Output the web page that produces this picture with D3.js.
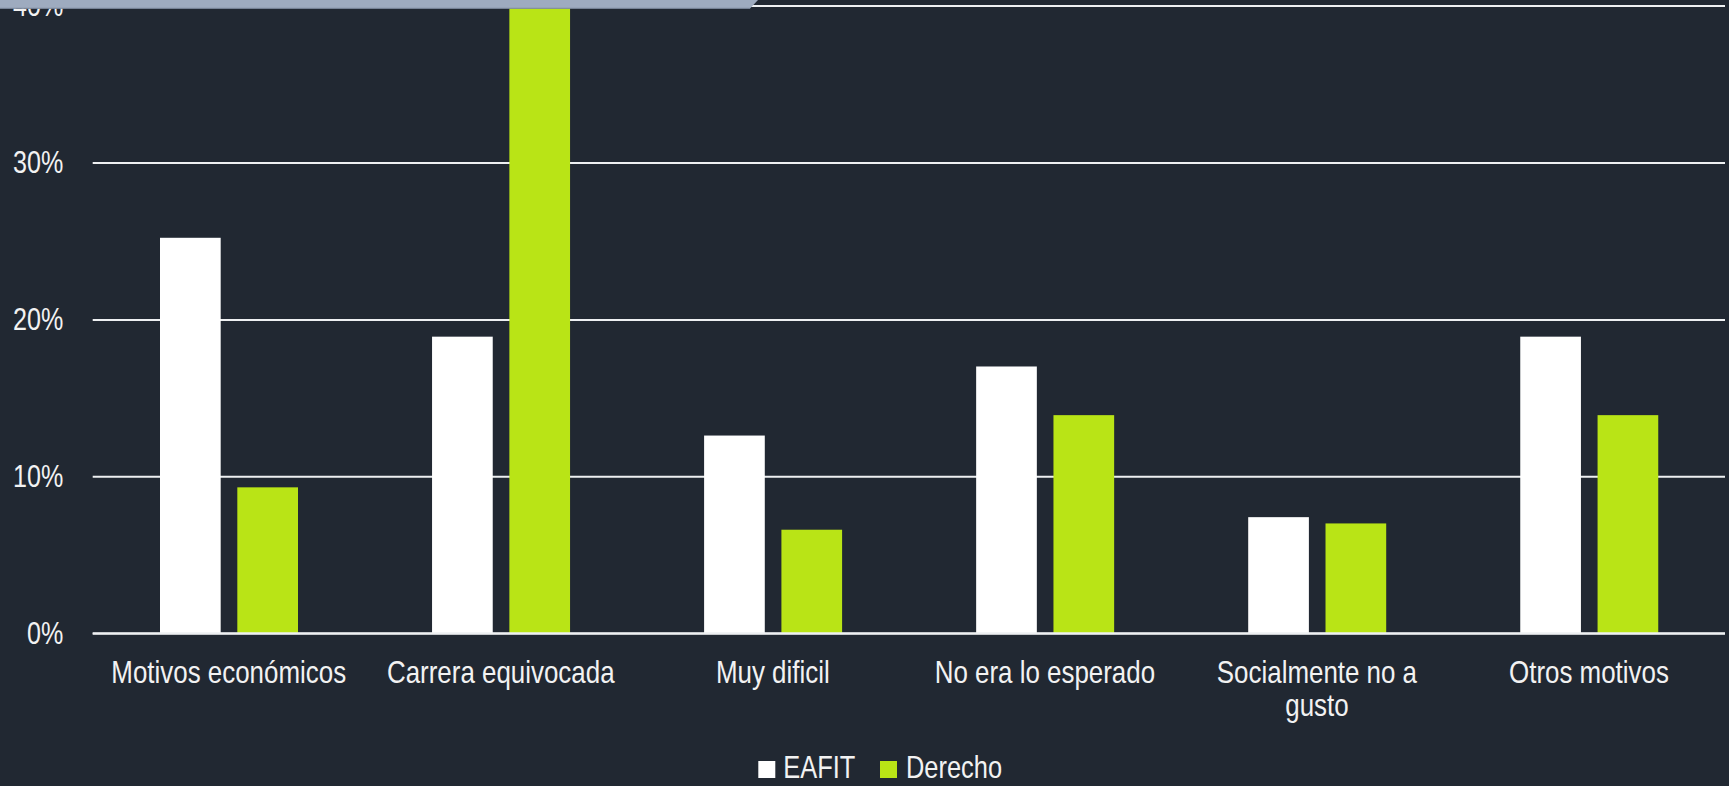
<!DOCTYPE html>
<html lang="es">
<head>
    <meta charset="UTF-8">
    <title>Motivos de deserción</title>
    <script src="https://cdnjs.cloudflare.com/ajax/libs/d3/7.8.5/d3.min.js"></script>
    <style>
        body {
            margin: 0;
            background-color: #212832;
            overflow: hidden;
        }
        svg text {
            font-family: "Liberation Sans", Arial, sans-serif;
            fill: #f2f2f2;
        }
    </style>
</head>
<body>
    <div id="chart"></div>

    <script>
        // Data
        const categories = ["Motivos económicos", "Carrera equivocada", "Muy dificil", "No era lo esperado", "Socialmente no a gusto", "Otros motivos"];
        const seriesNames = ["EAFIT", "Derecho"];
        const eafit = [25.2, 18.9, 12.6, 17.0, 7.4, 18.9];
        const derecho = [9.3, 41, 6.6, 13.9, 7.0, 13.9];
        const yTicks = [0, 10, 20, 30, 40];

        const colors = ["#ffffff", "#b9e416"];
        const width = 1729, height = 786;
        const plotLeft = 92.7, plotRight = 1725, plotTop = 5.5, plotBottom = 633.3;

        const svg = d3.select("#chart")
            .append("svg")
            .attr("width", width)
            .attr("height", height);

        const x = d3.scaleBand()
            .domain(categories)
            .range([plotLeft, plotRight])
            .paddingInner(0)
            .paddingOuter(0);

        const inner = d3.scaleBand()
            .domain(seriesNames)
            .range([67.3, 67.3 + 138])
            .paddingInner(0.215);

        const y = d3.scaleLinear()
            .domain([0, 40])
            .range([plotBottom, plotTop]);

        // helper: Liberation Sans squeezed to look like Arial Narrow
        function narrowText(parent, tx, ty, str, anchor, size, squeeze) {
            return parent.append("text")
                .attr("transform", `translate(${tx},${ty}) scale(${squeeze},1)`)
                .attr("text-anchor", anchor || "start")
                .attr("font-size", size)
                .text(str);
        }

        // Gridlines
        const yAxis = d3.axisLeft(y)
            .tickValues(yTicks)
            .tickSize(-(plotRight - plotLeft))
            .tickFormat("");

        const gAxis = svg.append("g")
            .attr("transform", `translate(${plotLeft},0)`)
            .call(yAxis);
        gAxis.select(".domain").remove();
        gAxis.selectAll(".tick line")
            .attr("stroke", "#eef0f2")
            .attr("stroke-width", 2);

        // Tick labels
        const tickLabels = svg.append("g");
        yTicks.forEach(t => {
            narrowText(tickLabels, 63.3, y(t) + 10.8, t + "%", "end", 32, 0.785);
        });

        // Bars
        const rows = categories.map((c, i) => ({ cat: c, values: [eafit[i], derecho[i]] }));

        const groups = svg.append("g")
            .selectAll("g")
            .data(rows)
            .enter()
            .append("g")
            .attr("transform", d => `translate(${x(d.cat)},0)`);

        groups.selectAll("rect")
            .data(d => d.values.map((v, j) => ({ name: seriesNames[j], value: v, j: j })))
            .enter()
            .append("rect")
            .attr("x", d => inner(d.name))
            .attr("width", inner.bandwidth())
            .attr("y", d => y(d.value))
            .attr("height", d => y(0) - y(d.value))
            .attr("fill", d => colors[d.j]);

        // Baseline drawn again on top
        svg.append("line")
            .attr("x1", plotLeft)
            .attr("x2", plotRight)
            .attr("y1", y(0))
            .attr("y2", y(0))
            .attr("stroke", "#eef0f2")
            .attr("stroke-width", 2);

        // Category labels, wrapped when too wide
        const labelG = svg.append("g");
        const catSqueeze = 0.81;
        categories.forEach(c => {
            const cx = x(c) + x.bandwidth() / 2;
            const el = narrowText(labelG, cx, 683.3, "", "middle", 32, catSqueeze);
            const words = c.split(" ");
            let line = [];
            let tspan = el.append("tspan").attr("x", 0).attr("dy", 0);
            words.forEach(w => {
                line.push(w);
                tspan.text(line.join(" "));
                if (tspan.node().getComputedTextLength() * catSqueeze > 252 && line.length > 1) {
                    line.pop();
                    tspan.text(line.join(" "));
                    line = [w];
                    tspan = el.append("tspan").attr("x", 0).attr("dy", 33).text(w);
                }
            });
        });

        // Legend
        const legend = svg.append("g");
        const legendItems = [
            { name: seriesNames[0], color: colors[0], sx: 758.3, tx: 783.3 },
            { name: seriesNames[1], color: colors[1], sx: 880, tx: 906 }
        ];
        legendItems.forEach(it => {
            legend.append("rect")
                .attr("x", it.sx)
                .attr("y", 761)
                .attr("width", 17)
                .attr("height", 17)
                .attr("fill", it.color);
            narrowText(legend, it.tx, 777.7, it.name, "start", 31, 0.82);
        });

        // Top banner strip
        svg.append("path")
            .attr("d", "M0,0 L758,0 L750,8.5 L0,8.5 Z")
            .attr("fill", "#9eabbf");
        svg.append("line")
            .attr("x1", 0).attr("x2", 750)
            .attr("y1", 8.3).attr("y2", 8.3)
            .attr("stroke", "#7b889b")
            .attr("stroke-width", 1);
    </script>
</body>
</html>
